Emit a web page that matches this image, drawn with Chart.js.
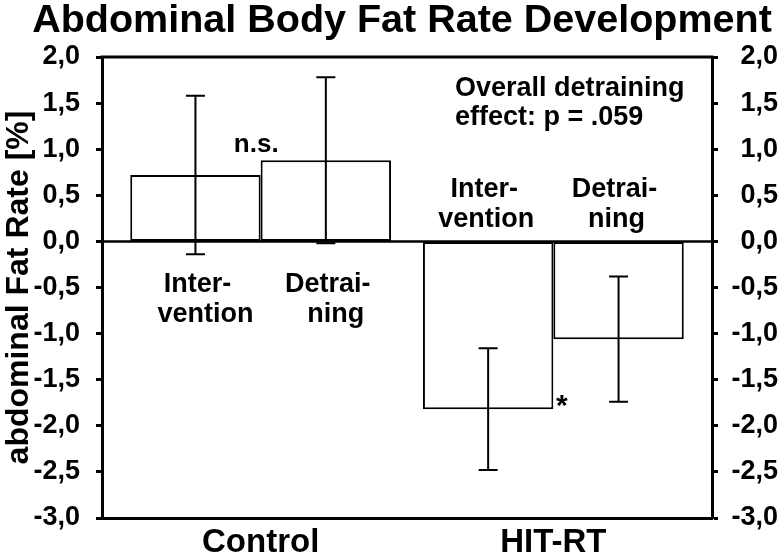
<!DOCTYPE html>
<html>
<head>
<meta charset="utf-8">
<script src="https://cdn.jsdelivr.net/npm/chart.js@4.4.1/dist/chart.umd.min.js"></script>
<style>
  html, body { margin: 0; padding: 0; background: #fff; }
</style>
</head>
<body>
<canvas id="fatChart" width="784" height="557"></canvas>
<script>
// --- data ---
const groups = ['Control', 'HIT-RT'];
const groupPos = [1, 2];
const phases = ['Intervention', 'Detraining'];
const phaseLabels = [['Inter-', 'vention'], ['Detrai-', 'ning']];
const interventionMean = [0.72, -1.82];
const interventionErr = [0.86, 0.66];
const detrainingMean = [0.88, -1.06];
const detrainingErr = [0.90, 0.68];
const yTicks = [-3, -2.5, -2, -1.5, -1, -0.5, 0, 0.5, 1, 1.5, 2];

const FONT = '"Liberation Sans", Arial, Helvetica, sans-serif';
const fmt = v => Number(v).toFixed(1).replace('.', ',');

const overlay = {
    id: 'overlay',
    afterDatasetsDraw(chart) {
        const ctx = chart.ctx;
        const xs = chart.scales.x;
        const ys = chart.scales.y;
        const area = chart.chartArea;
        const y0 = ys.getPixelForValue(0);

        ctx.save();
        ctx.strokeStyle = '#000';
        ctx.fillStyle = '#000';

        // zero line
        ctx.lineWidth = 2.5;
        ctx.beginPath();
        ctx.moveTo(area.left, y0);
        ctx.lineTo(area.right, y0);
        ctx.stroke();

        // top of the frame
        ctx.lineWidth = 3;
        ctx.beginPath();
        ctx.moveTo(area.left - 1.5, area.top);
        ctx.lineTo(area.right + 1.5, area.top);
        ctx.stroke();

        // error bars
        const means = [interventionMean, detrainingMean];
        const errs = [interventionErr, detrainingErr];
        ctx.lineWidth = 2;
        means.forEach((m, di) => {
            chart.getDatasetMeta(di).data.forEach((bar, i) => {
                const top = ys.getPixelForValue(m[i] + errs[di][i]);
                const bot = ys.getPixelForValue(m[i] - errs[di][i]);
                ctx.beginPath();
                ctx.moveTo(bar.x, top); ctx.lineTo(bar.x, bot);
                ctx.moveTo(bar.x - 9.5, top); ctx.lineTo(bar.x + 9.5, top);
                ctx.moveTo(bar.x - 9.5, bot); ctx.lineTo(bar.x + 9.5, bot);
                ctx.stroke();
            });
        });

        // phase labels next to the zero line
        ctx.font = 'bold 27px ' + FONT;
        ctx.textAlign = 'center';
        ctx.textBaseline = 'alphabetic';
        means.forEach((m, di) => {
            chart.getDatasetMeta(di).data.forEach((bar, i) => {
                const lines = phaseLabels[di];
                const pos = m[i] > 0;
                const base = pos ? [y0 + 51, y0 + 81] : [y0 - 44, y0 - 14];
                ctx.fillText(lines[0], bar.x + (pos ? 2 : -4), base[0]);
                ctx.fillText(lines[1], bar.x + (pos ? 10 : -2), base[1]);
            });
        });

        // n.s. between control bars
        ctx.font = 'bold 26px ' + FONT;
        ctx.fillText('n.s.', xs.getPixelForValue(0.985), ys.getPixelForValue(0.97));

        // significance star
        ctx.font = 'bold 30px ' + FONT;
        ctx.fillText('*', xs.getPixelForValue(2.029), ys.getPixelForValue(-1.88));

        // overall effect note
        ctx.font = 'bold 27px ' + FONT;
        ctx.textAlign = 'left';
        const nx = xs.getPixelForValue(1.664);
        const ny = ys.getPixelForValue(1.573);
        ctx.fillText('Overall detraining', nx, ny);
        ctx.fillText('effect: p = .059', nx, ny + 29);

        ctx.restore();
    }
};

const tickFont = { family: FONT, size: 27, weight: 'bold' };

new Chart(document.getElementById('fatChart'), {
    type: 'bar',
    data: {
        datasets: [
            {
                label: phases[0],
                data: groupPos.map((p, i) => ({ x: p, y: interventionMean[i] })),
                backgroundColor: '#fff',
                borderColor: '#000',
                borderWidth: 2,
                borderSkipped: false,
                categoryPercentage: 0.891,
                barPercentage: 1
            },
            {
                label: phases[1],
                data: groupPos.map((p, i) => ({ x: p, y: detrainingMean[i] })),
                backgroundColor: '#fff',
                borderColor: '#000',
                borderWidth: 2,
                borderSkipped: false,
                categoryPercentage: 0.891,
                barPercentage: 1
            }
        ]
    },
    options: {
        responsive: false,
        animation: false,
        layout: { padding: { left: 26, right: 6, top: 0, bottom: 0 } },
        plugins: {
            legend: { display: false },
            tooltip: { enabled: false },
            title: {
                display: true,
                text: 'Abdominal Body Fat Rate Development',
                color: '#000',
                font: { family: FONT, size: 39.5, weight: 'bold', lineHeight: 1 },
                padding: { top: 1, bottom: 16.5 }
            }
        },
        scales: {
            x: {
                type: 'linear',
                min: 0.458,
                max: 2.542,
                offset: false,
                afterBuildTicks: s => { s.ticks = groupPos.map(v => ({ value: v })); },
                afterFit: s => { s.height = 39; },
                grid: { display: false, drawTicks: false },
                border: { display: true, color: '#000', width: 3 },
                ticks: {
                    color: '#000',
                    padding: 5,
                    maxRotation: 0,
                    font: { family: FONT, size: 33, weight: 'bold' },
                    callback: v => groups[groupPos.indexOf(v)] || ''
                }
            },
            y: {
                position: 'left',
                min: -3,
                max: 2,
                afterBuildTicks: s => { s.ticks = yTicks.map(v => ({ value: v })); },
                afterFit: s => { s.width = 76; },
                grid: { drawOnChartArea: false, tickLength: 6, tickWidth: 3, tickColor: '#000' },
                border: { color: '#000', width: 3 },
                ticks: { color: '#000', padding: 16, font: tickFont, callback: fmt },
                title: {
                    display: true,
                    text: 'abdominal Fat Rate [%]',
                    color: '#000',
                    font: { family: FONT, size: 32, weight: 'bold', lineHeight: 1 },
                    padding: { top: -23, bottom: 0 }
                }
            },
            y2: {
                position: 'right',
                min: -3,
                max: 2,
                afterBuildTicks: s => { s.ticks = yTicks.map(v => ({ value: v })); },
                afterFit: s => { s.width = 66; },
                grid: { drawOnChartArea: false, tickLength: 6, tickWidth: 3, tickColor: '#000' },
                border: { color: '#000', width: 3 },
                ticks: { color: '#000', padding: 13, crossAlign: 'far', font: tickFont, callback: fmt }
            }
        }
    },
    plugins: [overlay]
});
</script>
</body>
</html>
